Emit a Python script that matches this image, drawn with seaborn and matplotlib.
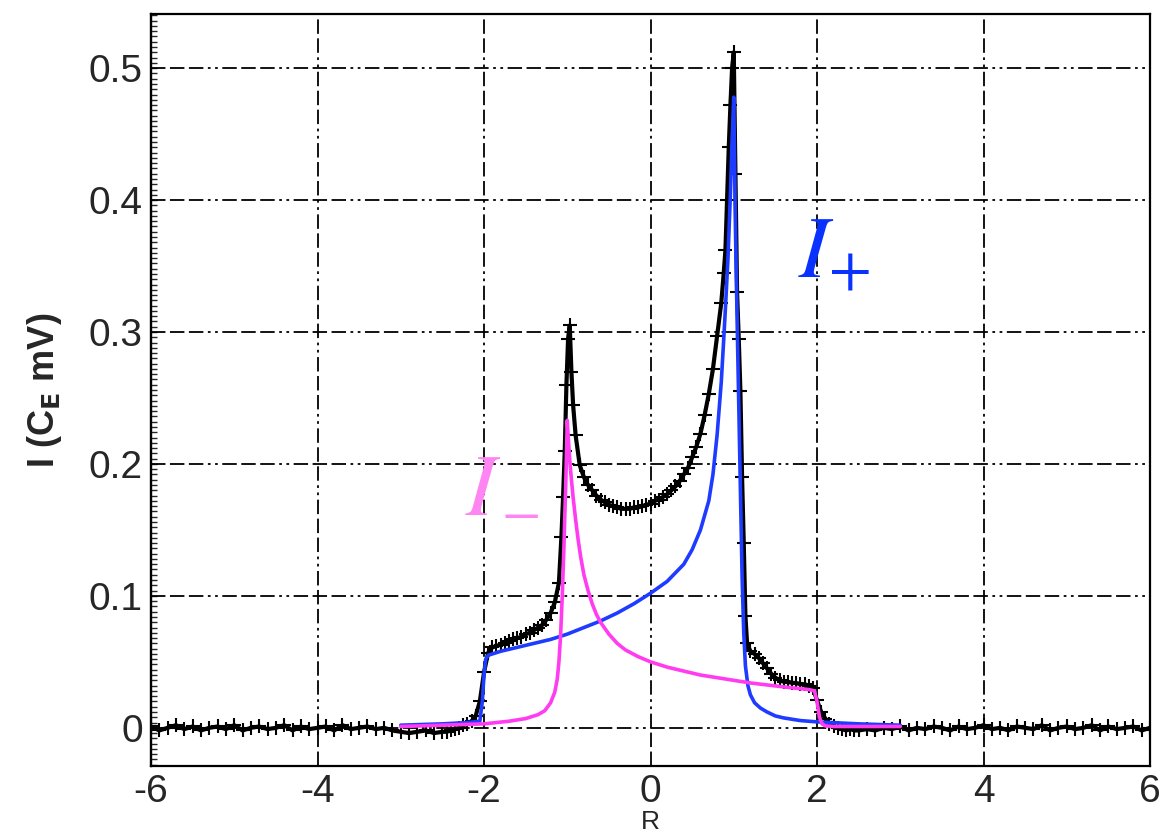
import numpy as np
import pandas as pd
import matplotlib
matplotlib.use("Agg")
import matplotlib.pyplot as plt
import seaborn as sns
from matplotlib.ticker import MultipleLocator

# measured data: flat baseline on both sides, read at 0.1 steps
r_base_left = np.round(np.arange(-6.0, -2.45, 0.1), 2)
i_base_left = [0.001, -0.002, 0.000, 0.002, -0.001, 0.001, -0.002, 0.000, 0.001, -0.001,
               0.002, -0.002, 0.000, 0.001, -0.001, 0.000, 0.002, -0.002, 0.001, -0.001,
               0.000, 0.001, -0.002, 0.002, -0.001, 0.000, 0.001, -0.001, 0.000, -0.002,
               -0.003, -0.004, -0.003, -0.002, -0.004, -0.003]
r_base_right = np.round(np.arange(2.5, 6.05, 0.1), 2)
i_base_right = [-0.002, -0.001, -0.002, 0.000, -0.001, 0.001, -0.002, 0.000, -0.001, 0.001,
                0.000, -0.002, 0.001, -0.001, 0.000, 0.002, -0.001, 0.000, -0.002, 0.001,
                0.000, -0.001, 0.002, -0.002, 0.000, 0.001, -0.001, 0.000, 0.002, -0.002,
                0.001, -0.001, 0.000, 0.001, -0.002, 0.000]

# measured data: central part
r_mid = [-2.45, -2.40, -2.35, -2.30, -2.25, -2.20, -2.15, -2.10, -2.05, -2.00,
         -1.95, -1.90, -1.85, -1.80, -1.75, -1.70, -1.65, -1.60, -1.55, -1.50,
         -1.45, -1.40, -1.35, -1.30, -1.25, -1.20, -1.15, -1.10,
         -1.07, -1.05, -1.03, -1.01, -0.99, -0.97, -0.95, -0.93,
         -0.90, -0.85, -0.80, -0.75, -0.70, -0.65, -0.60, -0.55, -0.50, -0.45,
         -0.40, -0.35, -0.30, -0.25, -0.20, -0.15, -0.10, -0.05, 0.00, 0.05,
         0.10, 0.15, 0.20, 0.25, 0.30, 0.35, 0.40, 0.45, 0.50, 0.55,
         0.60, 0.65, 0.70, 0.75, 0.80, 0.85,
         0.88, 0.90, 0.92, 0.94, 0.96, 0.98, 1.00, 1.02, 1.04, 1.06, 1.08, 1.10, 1.12, 1.14, 1.16,
         1.20, 1.25, 1.30, 1.35, 1.40, 1.45, 1.50, 1.55, 1.60, 1.65,
         1.70, 1.75, 1.80, 1.85, 1.90, 1.95, 2.00, 2.05, 2.10, 2.15,
         2.20, 2.25, 2.30, 2.35, 2.40, 2.45]
i_mid = [-0.003, -0.002, -0.001, 0.000, 0.002, 0.003, 0.005, 0.009, 0.020, 0.042,
         0.057, 0.061, 0.062, 0.063, 0.064, 0.066, 0.067, 0.068, 0.069, 0.071,
         0.072, 0.074, 0.076, 0.078, 0.082, 0.087, 0.095, 0.110,
         0.145, 0.175, 0.210, 0.260, 0.295, 0.305, 0.270, 0.245,
         0.222, 0.199, 0.190, 0.184, 0.180, 0.176, 0.173, 0.171, 0.169, 0.168,
         0.167, 0.166, 0.166, 0.166, 0.167, 0.167, 0.168, 0.169, 0.170, 0.172,
         0.173, 0.175, 0.177, 0.180, 0.183, 0.187, 0.192, 0.197, 0.205, 0.213,
         0.223, 0.237, 0.253, 0.272, 0.297, 0.322,
         0.345, 0.362, 0.400, 0.440, 0.472, 0.500, 0.512, 0.420, 0.330, 0.295, 0.255, 0.190, 0.140, 0.085, 0.064,
         0.058, 0.056, 0.053, 0.049, 0.045, 0.041, 0.038, 0.036, 0.035, 0.035,
         0.034, 0.034, 0.033, 0.033, 0.032, 0.030, 0.021, 0.012, 0.007, 0.003,
         0.001, 0.000, -0.001, -0.002, -0.001, -0.002]

# I+ component (blue)
r_plus = [-3.00, -2.50, -2.20, -2.05, -2.02, -2.00, -1.98, -1.95, -1.90, -1.80,
          -1.60, -1.40, -1.20, -1.00, -0.80, -0.60, -0.40, -0.20, 0.00, 0.20,
          0.40, 0.50, 0.60, 0.70, 0.75, 0.80, 0.85, 0.88, 0.90, 0.93,
          0.96, 0.98, 1.00, 1.02, 1.04, 1.06, 1.08, 1.10, 1.12, 1.14,
          1.17, 1.20, 1.25, 1.32, 1.40, 1.50, 1.60, 1.80, 2.00, 2.50, 3.00]
i_plus = [0.002, 0.003, 0.004, 0.005, 0.020, 0.040, 0.052, 0.055, 0.056, 0.058,
          0.061, 0.064, 0.067, 0.071, 0.076, 0.081, 0.087, 0.094, 0.102, 0.111,
          0.124, 0.135, 0.150, 0.172, 0.192, 0.222, 0.262, 0.295, 0.318, 0.355,
          0.405, 0.445, 0.478, 0.380, 0.310, 0.245, 0.180, 0.115, 0.072, 0.047,
          0.032, 0.025, 0.019, 0.015, 0.012, 0.009, 0.0075, 0.0055, 0.0045, 0.003, 0.002]

# I- component (magenta)
r_minus = [-3.00, -2.50, -2.00, -1.70, -1.50, -1.35, -1.27, -1.20, -1.15, -1.12,
           -1.10, -1.08, -1.06, -1.04, -1.03, -1.02, -1.01, -1.00, -0.99, -0.97,
           -0.95, -0.93, -0.90, -0.87, -0.84, -0.80, -0.75, -0.70, -0.65, -0.60,
           -0.50, -0.40, -0.30, -0.15, 0.00, 0.20, 0.40, 0.60, 0.90, 1.20,
           1.60, 1.90, 1.97, 2.00, 2.03, 2.06, 2.10, 2.20, 3.00]
i_minus = [0.001, 0.002, 0.003, 0.005, 0.007, 0.010, 0.013, 0.019, 0.027, 0.037,
           0.050, 0.070, 0.100, 0.137, 0.160, 0.180, 0.205, 0.233, 0.222, 0.203,
           0.188, 0.175, 0.158, 0.143, 0.130, 0.116, 0.104, 0.094, 0.086, 0.080,
           0.071, 0.064, 0.059, 0.054, 0.050, 0.046, 0.043, 0.040, 0.037, 0.034,
           0.031, 0.029, 0.028, 0.020, 0.008, 0.003, 0.0015, 0.001, 0.001]

data = pd.DataFrame({
    "R": np.concatenate([r_base_left, r_mid, r_base_right]),
    "I": np.concatenate([i_base_left, i_mid, i_base_right]),
})
plus = pd.DataFrame({"R": r_plus, "I": i_plus})
minus = pd.DataFrame({"R": r_minus, "I": i_minus})

sns.set_style("white")
plt.rcParams["font.family"] = ["Liberation Sans", "DejaVu Sans"]
plt.rcParams["axes.unicode_minus"] = False

fig = plt.figure(figsize=(11.76, 8.4), dpi=100)
ax = fig.add_axes([0.1284, 0.088, 0.8495, 0.8953])

sns.lineplot(data=data, x="R", y="I", ax=ax, color="black", lw=3, marker="+",
             markersize=10, markeredgewidth=1.5, markeredgecolor="black",
             sort=False, estimator=None, zorder=3)
sns.lineplot(data=plus, x="R", y="I", ax=ax, color="#1e3cff", lw=2.6,
             sort=False, estimator=None, zorder=4)
sns.lineplot(data=minus, x="R", y="I", ax=ax, color="#ff3cf0", lw=2.6,
             sort=False, estimator=None, zorder=5)

ax.text(1.77, 0.342, r"$I_{+}$", color="#0a32ff", fontsize=64, math_fontfamily="stix")
ax.text(-2.23, 0.161, r"$I$", color="#ff85f2", fontsize=64, math_fontfamily="stix")
ax.text(-1.555, 0.143, "\u2212", color="#ff85f2", fontsize=50, family="Liberation Serif",
        ha="center", va="baseline")

ax.set_xlim(-6, 6)
ax.set_ylim(-0.029, 0.541)
ax.xaxis.set_major_locator(MultipleLocator(2))
ax.xaxis.set_minor_locator(MultipleLocator(0.5))
ax.yaxis.set_minor_locator(MultipleLocator(0.02))
ax.set_yticks([0, 0.1, 0.2, 0.3, 0.4, 0.5])
ax.set_yticklabels(["0", "0.1", "0.2", "0.3", "0.4", "0.5"])

ax.tick_params(which="major", direction="in", length=14, width=1.5, labelsize=28, pad=6)
ax.tick_params(which="minor", direction="in", length=9, width=1.3)
ax.tick_params(axis="x", which="major", pad=6)

# finest tick level on the y axis
sec = ax.secondary_yaxis("left")
sec.yaxis.set_major_locator(MultipleLocator(0.004))
sec.tick_params(direction="in", length=4, width=1.0, labelleft=False)
sec.spines["left"].set_linewidth(1.6)

grid_style = (0, (8, 2.5, 8, 2.5, 8, 2.5, 1.5, 2.5, 1.5, 2.5))
ax.grid(True, which="major", color="black", lw=1.3, linestyle=grid_style)
for s in ax.spines.values():
    s.set_color("black")
    s.set_linewidth(1.6)

ax.set_xlabel("R", fontsize=19, va="center")
ax.xaxis.set_label_coords(0.5, -0.074)
ax.set_ylabel(r"I (C$_\mathbf{E}$ mV)", fontsize=26, fontweight="bold", labelpad=18)

fig.savefig("out.png", dpi=100)
